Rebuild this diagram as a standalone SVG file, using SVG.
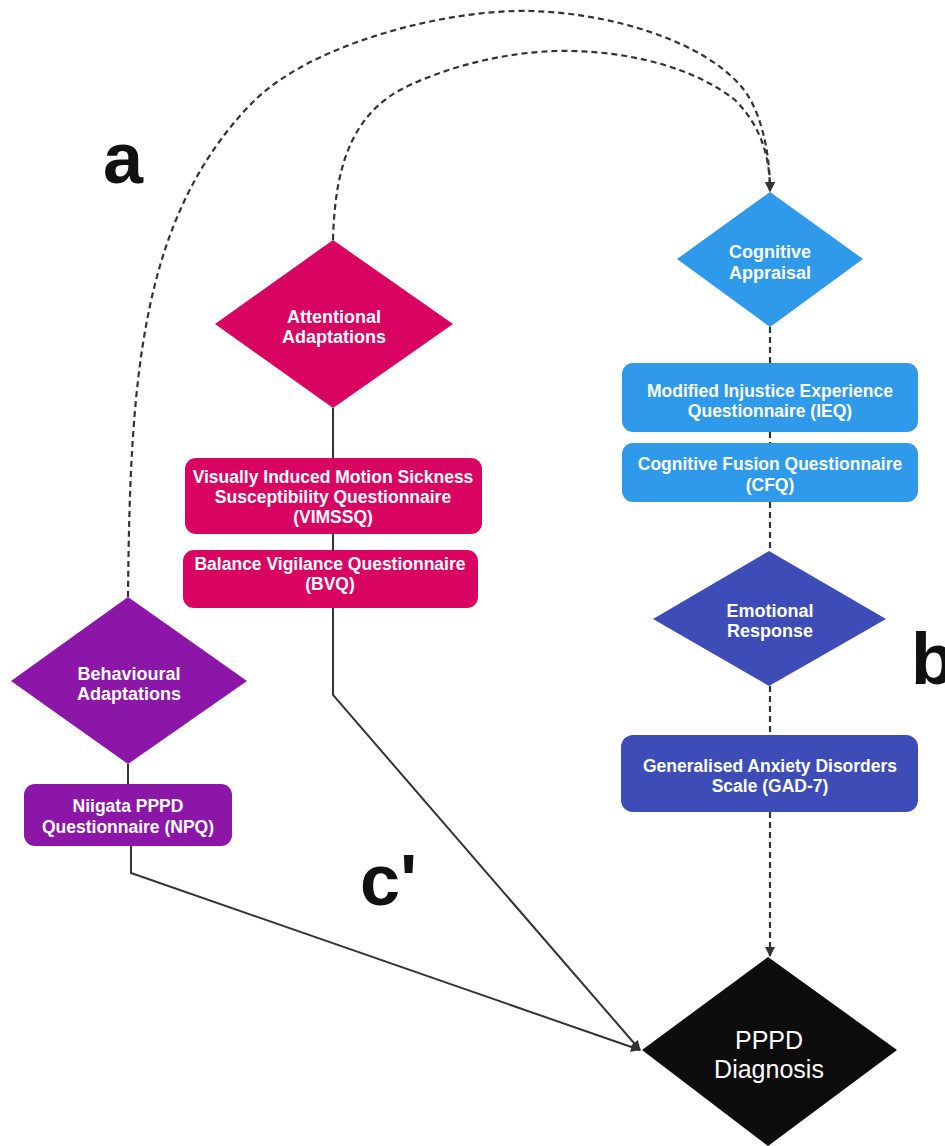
<svg xmlns="http://www.w3.org/2000/svg" width="945" height="1146" viewBox="0 0 945 1146">
<defs>
<style>
.t{font-family:"Liberation Sans",Arial,sans-serif;font-weight:bold;font-size:17.5px;fill:#fff;text-anchor:middle}
.d{font-size:18px}
.big{font-family:"Liberation Sans",Arial,sans-serif;font-weight:bold;font-size:72px;fill:#111}
.solid{fill:none;stroke:#333;stroke-width:2}
.dash{fill:none;stroke:#333;stroke-width:2.2;stroke-dasharray:6 4}
.att{fill:#D90461}
.cog{fill:#2F99EA}
.emo{fill:#3D4CB7}
.beh{fill:#8C16A8}
</style>
<marker id="ah" viewBox="0 0 10 10" refX="9" refY="5" markerWidth="10" markerHeight="10" markerUnits="userSpaceOnUse" orient="auto">
<path d="M0,0 L10,5 L0,10 z" fill="#333"/>
</marker>
</defs>
<rect width="945" height="1146" fill="#fff"/>

<g id="connectors">
<path class="dash" d="M128,597 C130,380 140,220 250,105 C310,42 450,9 530,11 C610,13 700,40 740,85 C760,107 770,150 770,191" marker-end="url(#ah)"/>
<path class="dash" d="M333,240 C335,160 355,110 410,85 C460,62 520,50 570,51 C640,52 700,72 735,100 C760,125 770,155 770,191" marker-end="url(#ah)"/>
<path class="solid" d="M333,408 L333,458 M333,534 L333,550"/>
<path class="solid" d="M333,608 L333,695 L640,1050" marker-end="url(#ah)"/>
<path class="solid" d="M128,764 L128,784"/>
<path class="solid" d="M131,846 L131,873 L640,1050" marker-end="url(#ah)"/>
<path class="dash" d="M770,327 L770,363 M770,432 L770,443 M770,502 L770,551 M770,686 L770,735"/>
<path class="dash" d="M770,812 L770,956" marker-end="url(#ah)"/>
</g>

<g id="node-attentional">
<polygon class="att" points="333,240 453,324 333,408 215,324"/>
<text class="t d" x="334" y="323">Attentional</text>
<text class="t d" x="334" y="343">Adaptations</text>
</g>
<g id="node-vimssq">
<rect class="att" x="185" y="458" width="297" height="76" rx="11"/>
<text class="t" x="333" y="483">Visually Induced Motion Sickness</text>
<text class="t" x="333" y="503">Susceptibility Questionnaire</text>
<text class="t" x="333" y="523">(VIMSSQ)</text>
</g>
<g id="node-bvq">
<rect class="att" x="183" y="550" width="295" height="58" rx="11"/>
<text class="t" x="330" y="570">Balance Vigilance Questionnaire</text>
<text class="t" x="330" y="590">(BVQ)</text>
</g>

<g id="node-behavioural">
<polygon class="beh" points="128,597 247,681 128,764 11,681"/>
<text class="t d" x="129" y="680">Behavioural</text>
<text class="t d" x="129" y="700">Adaptations</text>
</g>
<g id="node-npq">
<rect class="beh" x="24" y="784" width="208" height="62" rx="11"/>
<text class="t" x="128" y="812">Niigata PPPD</text>
<text class="t" x="128" y="833">Questionnaire (NPQ)</text>
</g>

<g id="node-cognitive">
<polygon class="cog" points="770,192 863,259 770,327 677,259"/>
<text class="t d" x="770" y="258">Cognitive</text>
<text class="t d" x="770" y="279">Appraisal</text>
</g>
<g id="node-ieq">
<rect class="cog" x="622" y="363" width="296" height="69" rx="11"/>
<text class="t" x="770" y="397">Modified Injustice Experience</text>
<text class="t" x="770" y="417">Questionnaire (IEQ)</text>
</g>
<g id="node-cfq">
<rect class="cog" x="622" y="443" width="296" height="59" rx="11"/>
<text class="t" x="770" y="470">Cognitive Fusion Questionnaire</text>
<text class="t" x="770" y="491">(CFQ)</text>
</g>

<g id="node-emotional">
<polygon class="emo" points="769,551 886,619 769,686 653,619"/>
<text class="t d" x="770" y="617">Emotional</text>
<text class="t d" x="770" y="637">Response</text>
</g>
<g id="node-gad">
<rect class="emo" x="621" y="735" width="297" height="77" rx="12"/>
<text class="t" x="770" y="772">Generalised Anxiety Disorders</text>
<text class="t" x="770" y="792">Scale (GAD-7)</text>
</g>

<g id="node-pppd">
<polygon fill="#0d0d0d" points="768,957 897,1050 768,1146 642,1050"/>
<text x="769" y="1049" font-family="Liberation Sans, Arial, sans-serif" font-size="25" fill="#fff" text-anchor="middle">PPPD</text>
<text x="769" y="1078" font-family="Liberation Sans, Arial, sans-serif" font-size="25" fill="#fff" text-anchor="middle">Diagnosis</text>
</g>

<g id="labels">
<text class="big" x="103" y="183">a</text>
<text class="big" x="911" y="684">b</text>
<text class="big" x="360" y="905">c'</text>
</g>
</svg>
